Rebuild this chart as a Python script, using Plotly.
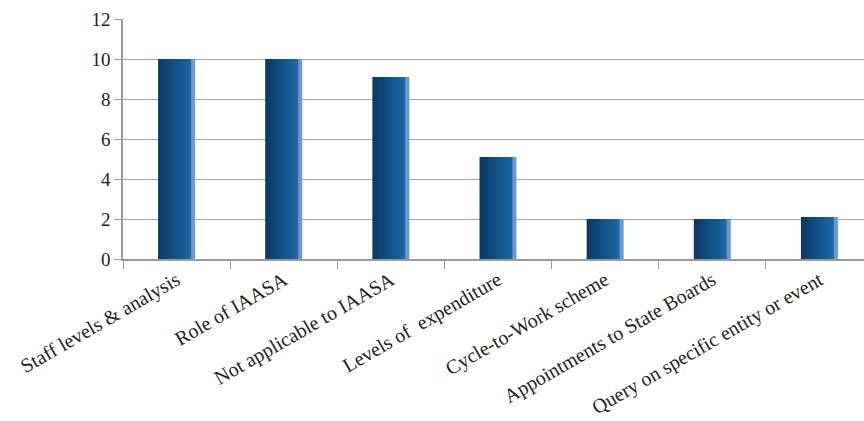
import plotly.graph_objects as go

categories = ["Staff levels & analysis", "Role of IAASA", "Not applicable to IAASA",
              "Levels of  expenditure", "Cycle-to-Work scheme",
              "Appointments to State Boards", "Query on specific entity or event"]
values = [10, 10, 9.1, 5.1, 2, 2, 2.1]
y_ticks = [0, 2, 4, 6, 8, 10, 12]

def lerp(c1, c2, t):
    a = [int(c1[i:i+2], 16) for i in (1, 3, 5)]
    b = [int(c2[i:i+2], 16) for i in (1, 3, 5)]
    return "#" + "".join(f"{round(a[k] + (b[k]-a[k]) * t):02x}" for k in range(3))

fig = go.Figure()
bar_w = 0.345
main_w = bar_w * 0.89
n = 30
step = main_w / n
left = -bar_w / 2
for i in range(n):
    c = lerp("#073a68", "#1d68a5", i / (n - 1))
    fig.add_trace(go.Bar(x=categories, y=values, width=main_w - i * step,
                         offset=left + i * step, marker_color=c,
                         marker_line_width=0, hoverinfo="skip", showlegend=False))
fig.add_trace(go.Bar(x=categories, y=values, width=bar_w - main_w,
                     offset=left + main_w, marker_color="#7397c8",
                     marker_line_width=0, hoverinfo="skip", showlegend=False))

font_fam = "Times New Roman, Times, serif"
fig.update_layout(
    width=864, height=421,
    margin=dict(l=123, r=0, t=19, b=162),
    paper_bgcolor="white", plot_bgcolor="white",
    barmode="overlay",
    font=dict(family=font_fam, size=19, color="#222222"),
    xaxis=dict(range=[-0.5, 6.416], tickangle=-30, ticks="outside", tickson="boundaries",
               ticklen=8, tickcolor="#9a9a9a", showline=True, linecolor="#9a9a9a",
               linewidth=1.5, showgrid=False, tickfont=dict(family=font_fam, size=20)),
    yaxis=dict(range=[0, 12], tickvals=y_ticks, ticks="outside", ticklen=7,
               tickcolor="#9a9a9a", showline=True, linecolor="#9a9a9a", linewidth=1.5,
               showgrid=True, gridcolor="#a6a6a6", gridwidth=1.2, zeroline=False,
               tickfont=dict(family=font_fam, size=19)),
)
fig.write_html("out.html")
